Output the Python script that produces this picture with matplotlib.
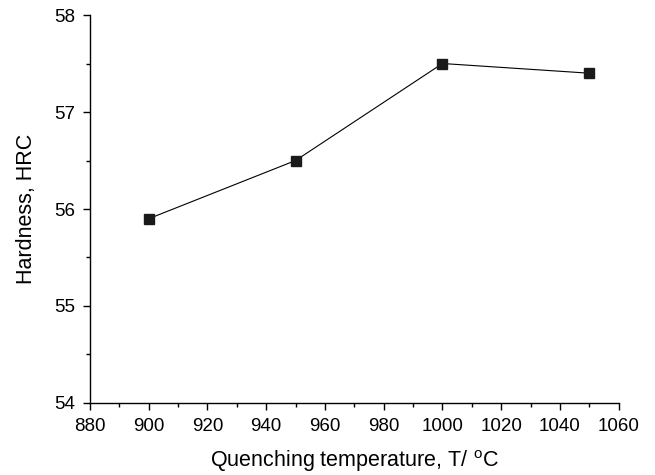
import matplotlib
matplotlib.use("Agg")
from matplotlib import pyplot as plt
from matplotlib.ticker import MultipleLocator

# quenching temperature (C) and measured hardness (HRC)
temperature = [900, 950, 1000, 1050]
hardness = [55.9, 56.5, 57.5, 57.4]

plt.rcParams['font.family'] = ['Liberation Sans', 'DejaVu Sans']
plt.rcParams['mathtext.fontset'] = 'custom'
plt.rcParams['mathtext.rm'] = 'Liberation Sans'

fig = plt.figure(figsize=(6.55, 4.75), dpi=100)
ax = fig.add_axes([0.1374, 0.1516, 0.8072, 0.8168])

ax.plot(temperature, hardness, color='black', linewidth=0.8,
        marker='s', markersize=6.5, markerfacecolor='#1a1a1a', markeredgecolor='#1a1a1a')

ax.set_xlim(880, 1060)
ax.set_ylim(54, 58)
ax.xaxis.set_major_locator(MultipleLocator(20))
ax.xaxis.set_minor_locator(MultipleLocator(10))
ax.yaxis.set_major_locator(MultipleLocator(1))
ax.yaxis.set_minor_locator(MultipleLocator(0.5))

for side in ['top', 'right']:
    ax.spines[side].set_visible(False)
for side in ['left', 'bottom']:
    ax.spines[side].set_linewidth(1.0)

ax.tick_params(which='major', direction='out', length=5, width=1.0, labelsize=13.5, pad=6)
ax.tick_params(which='minor', direction='out', length=3, width=1.0)

ax.set_xlabel("Quenching temperature, T/ $^{\\mathrm{o}}$C", fontsize=15.5, labelpad=9)
ax.set_ylabel("Hardness, HRC", fontsize=15.5, labelpad=12)

fig.savefig("out.png", dpi=100)
